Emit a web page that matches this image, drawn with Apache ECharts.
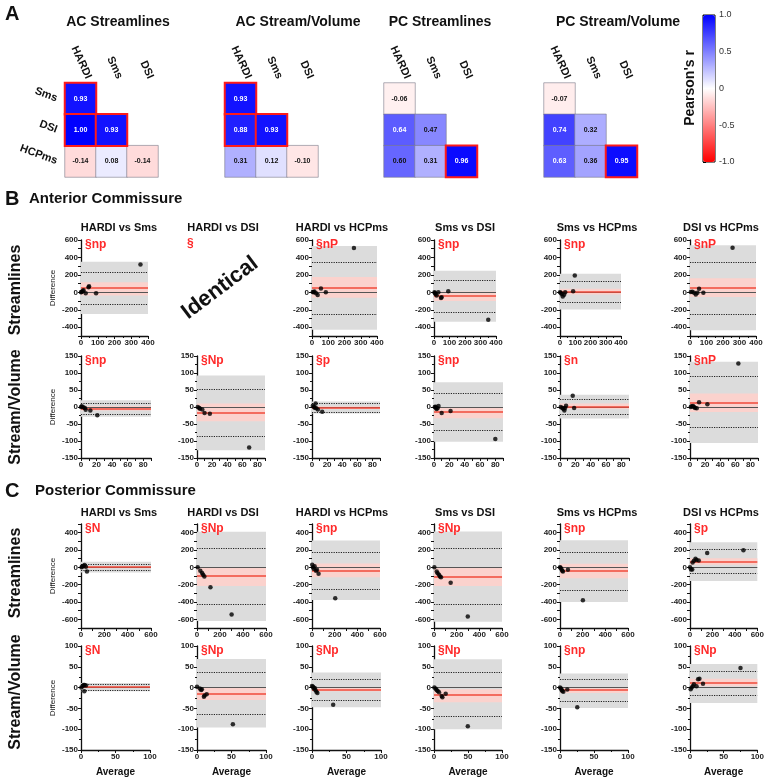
<!DOCTYPE html>
<html>
<head>
<meta charset="utf-8">
<script src="https://cdn.jsdelivr.net/npm/echarts@6/dist/echarts.min.js"></script>
<style>
html, body { margin: 0; padding: 0; background: #fff; }
#fig { width: 767px; height: 780px; }
</style>
</head>
<body>
<div id="fig"></div>
<script>
// ---------- panel A: correlation matrices ----------
const hmCols = ['HARDI', 'Sms', 'DSI'];
const hmRows = ['Sms', 'DSI', 'HCPms'];
const hmCells = [[0, 0], [0, 1], [1, 1], [0, 2], [1, 2], [2, 2]]; // [col, row]
const hmTitles = ['AC Streamlines', 'AC Stream/Volume', 'PC Streamlines', 'PC Stream/Volume'];
const acStreamR = [0.93, 1.00, 0.93, -0.14, 0.08, -0.14];
const acVolR = [0.93, 0.88, 0.93, 0.31, 0.12, -0.10];
const pcStreamR = [-0.06, 0.64, 0.47, 0.60, 0.31, 0.96];
const pcVolR = [-0.07, 0.74, 0.32, 0.63, 0.36, 0.95];
const acStreamSig = [1, 1, 1, 0, 0, 0];
const acVolSig = [1, 1, 1, 0, 0, 0];
const pcStreamSig = [0, 0, 0, 0, 0, 1];
const pcVolSig = [0, 0, 0, 0, 0, 1];

// ---------- panels B / C: Bland-Altman ----------
const pairNames = ['HARDI vs Sms', 'HARDI vs DSI', 'HARDI vs HCPms', 'Sms vs DSI', 'Sms vs HCPms', 'DSI vs HCPms'];

// AC streamlines
const acStreamTags = ['§np', '§', '§nP', '§np', '§np', '§nP'];
const acStreamMean = [48, null, 52, -42, 6, 48];
const acStreamLoA = [[-137, 233], null, [-247, 350], [-224, 141], [-116, 128], [-254, 350]];
const acStreamBand = [[-248, 350], null, [-428, 530], [-337, 247], [-196, 212], [-435, 540]];
const acStreamMeanCI = [[-35, 115], null, [-62, 175], [-100, 10], [-25, 40], [-52, 162]];
const acStreamPts = [
  [[0, 0], [3, 5], [10, 15], [15, 25], [28, -10], [45, 60], [48, 70], [90, -10], [355, 320]],
  null,
  [[5, 5], [10, 0], [15, 10], [25, -10], [35, -30], [55, 45], [85, 0], [258, 508]],
  [[3, 0], [6, -8], [10, -20], [17, -35], [28, 0], [45, -66], [49, -55], [92, 12], [350, -314]],
  [[0, 0], [5, -5], [11, -20], [18, -48], [27, -28], [34, 0], [86, 12], [97, 192]],
  [[5, 5], [14, 8], [25, -4], [35, -24], [45, -4], [55, 40], [81, -4], [258, 512]]
];

// AC stream/volume
const acVolTags = ['§np', '§Np', '§p', '§np', '§n', '§nP'];
const acVolMean = [-4, -17, -2, -14, 2, 13];
const acVolLoA = [[-20, 12], [-85, 52], [-14, 11], [-69, 41], [-20, 24], [-61, 89]];
const acVolBand = [[-29, 20], [-127, 93], [-19, 16], [-102, 73], [-34, 36], [-106, 133]];
const acVolMeanCI = [[-10, 3], [-42, 10], [-6, 2], [-33, 0], [-6, 10], [-15, 40]];
const acVolPts = [
  [[0, 0], [1, 2], [3, -1], [5, -3], [6, -8], [12, -10], [21, -24]],
  [[1, 0], [3, -3], [4, -5], [7, -7], [10, -18], [17, -20], [69, -119]],
  [[1, 4], [2.6, 1], [3.5, -2], [4.8, 10], [5.6, -4], [7.8, -7], [13.5, -14]],
  [[1, 0], [2, 1], [2.4, -2], [3.3, -6], [4.6, -4], [5.9, 3], [10, -18], [21.6, -12], [80, -94]],
  [[1, 0], [3, -3], [4.4, -5], [5.7, -10], [6.6, -3], [7.9, 4], [16.6, 33], [18.4, -3]],
  [[1, 0], [2.2, 2], [4, 3], [5.3, 0], [6.7, -3], [8.9, -4], [12, 14], [23, 8], [64, 128]]
];

// PC streamlines
const pcStreamTags = ['§N', '§Np', '§np', '§Np', '§np', '§p'];
const pcStreamMean = [2, -100, -35, -107, -42, 68];
const pcStreamLoA = [[-38, 37], [-422, 217], [-248, 178], [-431, 217], [-263, 176], [-63, 204]];
const pcStreamBand = [[-60, 63], [-620, 410], [-376, 310], [-627, 414], [-400, 313], [-157, 290]];
const pcStreamMeanCI = [[-12, 12], [-215, -5], [-115, 45], [-215, -5], [-125, 40], [30, 105]];
const pcStreamPts = [
  [[5, 0], [10, 10], [22, 15], [30, 26], [42, 7], [51, -49]],
  [[6, 0], [29, -39], [44, -66], [53, -85], [64, -105], [117, -229], [301, -543]],
  [[2, 31], [9, 0], [15, -16], [23, 12], [35, -39], [44, -27], [58, -74], [205, -357]],
  [[3, 0], [24, -47], [32, -67], [44, -87], [53, -107], [62, -115], [147, -178], [298, -568]],
  [[0, 0], [5, -5], [12, -20], [20, -39], [26, -47], [70, -27], [202, -380]],
  [[0, 0], [9, -24], [20, -24], [23, 55], [35, 75], [49, 98], [58, 86], [78, 80], [153, 165], [476, 196]]
];

// PC stream/volume
const pcVolTags = ['§N', '§Np', '§Np', '§Np', '§np', '§Np'];
const pcVolMean = [1, -15, -5, -17, -6, 11];
const pcVolLoA = [[-7, 9], [-65, 38], [-31, 20], [-69, 36], [-33, 20], [-18, 39]];
const pcVolBand = [[-9, 11], [-96, 69], [-47, 36], [-100, 68], [-49, 34], [-37, 57]];
const pcVolMeanCI = [[-1, 3], [-30, -1], [-9, 1.5], [-35, -4], [-13, -1.5], [3, 21]];
const pcVolPts = [
  [[0.4, 0], [2.3, 3], [3.8, 6], [5.2, 6], [7.2, 5], [4.8, -9]],
  [[0, 2], [4, -2], [6, -6], [7, -4], [10, -22], [11, -19], [14, -16], [52, -88]],
  [[0, 4], [1.5, 2], [2.4, -2], [3.9, -1], [4.9, -6], [6.3, -10], [7.8, -13], [30.7, -41]],
  [[0.5, 0], [2.5, -3], [3.9, -5.6], [5.4, -8], [7.4, -11], [11.3, -20], [12.3, -23], [17.2, -15], [49.7, -93]],
  [[0, 0], [1.5, -2.4], [2.4, -5.6], [3.4, -8], [4.9, -10], [10.7, -4.8], [25.4, -47]],
  [[1, -4], [2.4, 0], [4.3, 3], [5.8, 8], [9.7, 3], [12, 20], [14, 21], [19.3, 9.5], [75, 47]]
];

// ---------- layout ----------
const FONT = '"Liberation Sans", Arial, sans-serif';
const hmLeft = [65, 225, 384, 544];
const hmTitleX = [118, 298, 440, 618];
const colLeft = [81, 197, 312, 434, 560, 690];
const titleX = [119, 223, 342, 465, 597, 721];
const rows = [
  { top: 240, h: 96, w: [67, 68, 65, 62, 61, 66], xMax: 400, xInt: 100, xMinor: 2, xLab: 100, yMin: -500, yMax: 600, yInt: 100, yMinor: 0, yLab: 200,
    tags: acStreamTags, mean: acStreamMean, loa: acStreamLoA, band: acStreamBand, ci: acStreamMeanCI, pts: acStreamPts, titleY: 228 },
  { top: 356, h: 102, w: [70, 68, 68, 69, 69, 68], xMax: 90, xInt: 10, xMinor: 0, xLab: 20, yMin: -150, yMax: 150, yInt: 50, yMinor: 2, yLab: 50,
    tags: acVolTags, mean: acVolMean, loa: acVolLoA, band: acVolBand, ci: acVolMeanCI, pts: acVolPts },
  { top: 524, h: 104, w: [70, 69, 68, 68, 68, 69], xMax: 600, xInt: 100, xMinor: 0, xLab: 200, yMin: -700, yMax: 500, yInt: 100, yMinor: 0, yLab: 200,
    tags: pcStreamTags, mean: pcStreamMean, loa: pcStreamLoA, band: pcStreamBand, ci: pcStreamMeanCI, pts: pcStreamPts, titleY: 513 },
  { top: 646, h: 104, w: [69, 69, 69, 68, 68, 68], xMax: 100, xInt: 50, xMinor: 2, xLab: 50, yMin: -150, yMax: 100, yInt: 50, yMinor: 2, yLab: 50,
    tags: pcVolTags, mean: pcVolMean, loa: pcVolLoA, band: pcVolBand, ci: pcVolMeanCI, pts: pcVolPts, xName: 'Average' }
];

const grid = [], xAxis = [], yAxis = [], series = [], graphic = [];

function txt(s, x, y, font, opt) {
  opt = opt || {};
  graphic.push({
    type: 'text', x: x, y: y, rotation: opt.rot || 0, silent: true, z: 100,
    style: { text: s, font: font, fill: opt.fill || '#111', textAlign: opt.align || 'center', textVerticalAlign: 'middle' }
  });
}

// heatmaps
[acStreamR, acVolR, pcStreamR, pcVolR].forEach((vals, k) => {
  const sig = [acStreamSig, acVolSig, pcStreamSig, pcVolSig][k];
  grid.push({ left: hmLeft[k], top: 83, width: 93, height: 94 });
  xAxis.push({
    type: 'category', gridIndex: k, data: hmCols, position: 'top',
    axisLine: { show: false }, axisTick: { show: false }, splitLine: { show: false },
    axisLabel: { rotate: 65, verticalAlign: 'bottom', lineHeight: 18, fontSize: 11, fontWeight: 'bold', color: '#111', fontFamily: FONT, margin: 1 }
  });
  yAxis.push({
    type: 'category', gridIndex: k, data: hmRows, inverse: true,
    axisLine: { show: false }, axisTick: { show: false }, splitLine: { show: false },
    axisLabel: { show: k === 0, rotate: -20, fontSize: 11, fontWeight: 'bold', color: '#111', fontFamily: FONT, margin: 8 }
  });
  const items = hmCells.map((c, i) => ({
    value: [c[0], c[1], vals[i]],
    sig: sig[i],
    itemStyle: sig[i] ? { borderColor: '#ff1a1a', borderWidth: 2 } : { borderColor: '#7a7a8a', borderWidth: 0.6 },
    label: { color: vals[i] > 0.62 ? '#fff' : '#111' }
  })).sort((a, b) => a.sig - b.sig);
  series.push({
    type: 'heatmap', xAxisIndex: k, yAxisIndex: k, data: items, silent: true,
    emphasis: { disabled: true },
    label: { show: true, formatter: p => p.value[2].toFixed(2), fontSize: 7, fontWeight: 'bold', fontFamily: FONT }
  });
  txt(hmTitles[k], hmTitleX[k], 22, 'bold 14px ' + FONT);
});

// colour bar axis
grid.push({ left: 703, top: 15, width: 12, height: 147, show: true, borderColor: '#000', borderWidth: 1, backgroundColor: 'transparent' });
xAxis.push({ type: 'value', gridIndex: 4, show: false, min: 0, max: 1 });
yAxis.push({
  type: 'value', gridIndex: 4, min: -1, max: 1, interval: 0.5, position: 'right',
  axisLine: { show: false }, splitLine: { show: false },
  axisTick: { show: true, length: 3, lineStyle: { color: '#000' } },
  axisLabel: { fontSize: 9, color: '#333', fontFamily: FONT, margin: 4, formatter: v => (v === 0 ? '0' : v.toFixed(1)) }
});
series.push({ type: 'scatter', xAxisIndex: 4, yAxisIndex: 4, data: [] });
txt("Pearson's r", 690, 88, 'bold 14px ' + FONT, { rot: Math.PI / 2 });

// Bland-Altman plots
const axLine = { show: true, onZero: false, lineStyle: { color: '#111', width: 1.3 } };
const axTick = { show: true, length: 3, lineStyle: { color: '#111', width: 1 } };
const labStyle = { fontSize: 8, fontWeight: 'bold', color: '#222', fontFamily: FONT, margin: 3 };
const minorStyle = n => ({ show: n > 0, splitNumber: n || 2, length: 2, lineStyle: { color: '#111', width: 1 } });

rows.forEach((r, ri) => {
  for (let c = 0; c < 6; c++) {
    if (r.titleY) txt(pairNames[c], titleX[c], r.titleY, 'bold 11px ' + FONT);
    if (!r.pts[c]) {
      txt(r.tags[c], 187, r.top + 4, 'bold 12px ' + FONT, { fill: '#ff2b2b', align: 'left' });
      continue;
    }
    txt(r.tags[c], colLeft[c] + 4, r.top + 5, 'bold 12px ' + FONT, { fill: '#ff2b2b', align: 'left' });
    const g = grid.length;
    grid.push({ left: colLeft[c], top: r.top, width: r.w[c], height: r.h });
    xAxis.push({
      type: 'value', gridIndex: g, min: 0, max: r.xMax, interval: r.xInt,
      axisLine: axLine, axisTick: axTick, minorTick: minorStyle(r.xMinor), splitLine: { show: false },
      axisLabel: Object.assign({}, labStyle, { formatter: v => (Math.round(v) % r.xLab === 0 ? String(v) : '') }),
      name: r.xName || '', nameLocation: 'middle', nameGap: 17,
      nameTextStyle: { fontSize: 10, fontWeight: 'bold', color: '#111', fontFamily: FONT }
    });
    yAxis.push({
      type: 'value', gridIndex: g, min: r.yMin, max: r.yMax, interval: r.yInt,
      axisLine: axLine, axisTick: axTick, minorTick: minorStyle(r.yMinor), splitLine: { show: false },
      axisLabel: Object.assign({}, labStyle, { formatter: v => (Math.round(v) % r.yLab === 0 ? String(v) : '') }),
      name: c === 0 ? 'Difference' : '', nameLocation: 'middle', nameGap: 24,
      nameTextStyle: { fontSize: 8, color: '#111', fontFamily: FONT }
    });
    series.push({
      type: 'line', xAxisIndex: g, yAxisIndex: g, data: [], silent: true, z: 1,
      markArea: {
        silent: true,
        data: [
          [{ yAxis: r.band[c][0], itemStyle: { color: '#dcdcdc' } }, { yAxis: r.band[c][1] }],
          [{ yAxis: r.ci[c][0], itemStyle: { color: '#fbd2cd' } }, { yAxis: r.ci[c][1] }]
        ]
      },
      markLine: {
        silent: true, symbol: 'none', label: { show: false }, animation: false,
        data: [
          { yAxis: 0, lineStyle: { color: '#555', type: 'solid', width: 1 } },
          { yAxis: r.loa[c][0], lineStyle: { color: '#222', type: 'dotted', width: 1.2 } },
          { yAxis: r.loa[c][1], lineStyle: { color: '#222', type: 'dotted', width: 1.2 } },
          { yAxis: r.mean[c], lineStyle: { color: '#f04a3a', type: 'solid', width: 1.6 } }
        ]
      }
    });
    series.push({
      type: 'scatter', xAxisIndex: g, yAxisIndex: g, data: r.pts[c], z: 5, silent: true,
      symbolSize: 4.5, itemStyle: { color: '#000' }
    });
  }
});

// panel headings and row labels
txt('A', 5, 14, 'bold 20px ' + FONT, { align: 'left' });
txt('B', 5, 199, 'bold 20px ' + FONT, { align: 'left' });
txt('Anterior Commissure', 29, 199, 'bold 15px ' + FONT, { align: 'left' });
txt('C', 5, 491, 'bold 20px ' + FONT, { align: 'left' });
txt('Posterior Commissure', 35, 491, 'bold 15px ' + FONT, { align: 'left' });
txt('Streamlines', 16, 290, 'bold 16px ' + FONT, { rot: Math.PI / 2 });
txt('Stream/Volume', 16, 407, 'bold 16px ' + FONT, { rot: Math.PI / 2 });
txt('Streamlines', 16, 573, 'bold 16px ' + FONT, { rot: Math.PI / 2 });
txt('Stream/Volume', 16, 692, 'bold 16px ' + FONT, { rot: Math.PI / 2 });
txt('Identical', 220, 288, 'bold 22px ' + FONT, { rot: 37 * Math.PI / 180 });

const chart = echarts.init(document.getElementById('fig'));
chart.setOption({
  animation: false,
  grid: grid, xAxis: xAxis, yAxis: yAxis, series: series, graphic: graphic,
  visualMap: {
    type: 'continuous', min: -1, max: 1, seriesIndex: [0, 1, 2, 3],
    calculable: false, orient: 'vertical', left: 703, top: 15, itemWidth: 12, itemHeight: 147,
    padding: 0, text: null, inRange: { color: ['#ff0000', '#ffffff', '#0000ff'] }
  }
});
</script>
</body>
</html>
